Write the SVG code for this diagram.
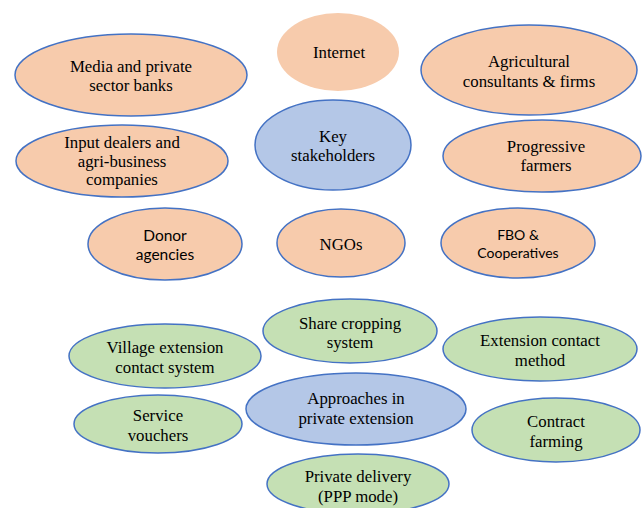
<svg xmlns="http://www.w3.org/2000/svg" width="643" height="508" viewBox="0 0 643 508">
<style>
.o{fill:#f7cbac;stroke:#4472c4;stroke-width:1.5}
.b{fill:#b4c7e7;stroke:#4472c4;stroke-width:1.5}
.g{fill:#c5e0b4;stroke:#4472c4;stroke-width:1.5}
.n{stroke:none}
text{font-family:"Liberation Serif","Times New Roman",serif;font-size:16.8px;fill:#000;text-anchor:middle}
text.s{font-family:Lato,"Liberation Sans",sans-serif;font-size:15.5px}
text.s2{font-family:Lato,"Liberation Sans",sans-serif;font-size:14px}
</style>
<rect width="643" height="508" fill="#fff"/>
<g id="connectors"></g>
<g id="internet"><ellipse class="o n" cx="338" cy="52" rx="61" ry="39"/><text x="339" y="58">Internet</text></g>
<g id="media"><ellipse class="o" cx="131" cy="75" rx="116" ry="41"/><text x="131" y="72">Media and private</text><text x="131" y="91">sector banks</text></g>
<g id="input"><ellipse class="o" cx="122" cy="161" rx="106" ry="36"/><text x="122" y="148">Input dealers and</text><text x="122" y="167">agri-business</text><text x="122" y="185">companies</text></g>
<g id="donor"><ellipse class="o" cx="165" cy="244" rx="77" ry="36"/><text class="s" x="165" y="241">Donor</text><text class="s" x="165" y="260">agencies</text></g>
<g id="key"><ellipse class="b" cx="333" cy="145" rx="78" ry="45"/><text x="333" y="142">Key</text><text x="333" y="161">stakeholders</text></g>
<g id="ngos"><ellipse class="o" cx="341" cy="243" rx="64" ry="34"/><text x="341" y="250">NGOs</text></g>
<g id="agri"><ellipse class="o" cx="529" cy="70" rx="108" ry="45"/><text x="529" y="67">Agricultural</text><text x="529" y="87">consultants &amp; firms</text></g>
<g id="progressive"><ellipse class="o" cx="542" cy="156" rx="99" ry="36"/><text x="546" y="152">Progressive</text><text x="546" y="171">farmers</text></g>
<g id="fbo"><ellipse class="o" cx="518" cy="243" rx="77" ry="35"/><text class="s2" x="518" y="240">FBO &amp;</text><text class="s2" x="518" y="258">Cooperatives</text></g>
<g id="share"><ellipse class="g" cx="350" cy="331" rx="87" ry="32"/><text x="350" y="329">Share cropping</text><text x="350" y="348">system</text></g>
<g id="village"><ellipse class="g" cx="165" cy="356" rx="96" ry="32"/><text x="165" y="353">Village extension</text><text x="165" y="373">contact system</text></g>
<g id="extension"><ellipse class="g" cx="540" cy="349" rx="97" ry="32"/><text x="540" y="346">Extension contact</text><text x="540" y="366">method</text></g>
<g id="approaches"><ellipse class="b" cx="356" cy="409" rx="110" ry="36"/><text x="356" y="404">Approaches in</text><text x="356" y="424">private extension</text></g>
<g id="vouchers"><ellipse class="g" cx="158" cy="424" rx="84" ry="29"/><text x="158" y="421">Service</text><text x="158" y="441">vouchers</text></g>
<g id="contract"><ellipse class="g" cx="556" cy="430" rx="84" ry="32"/><text x="556" y="427">Contract</text><text x="556" y="447">farming</text></g>
<g id="private"><ellipse class="g" cx="358" cy="484" rx="91" ry="30"/><text x="358" y="482">Private delivery</text><text x="358" y="502">(PPP mode)</text></g>
</svg>
